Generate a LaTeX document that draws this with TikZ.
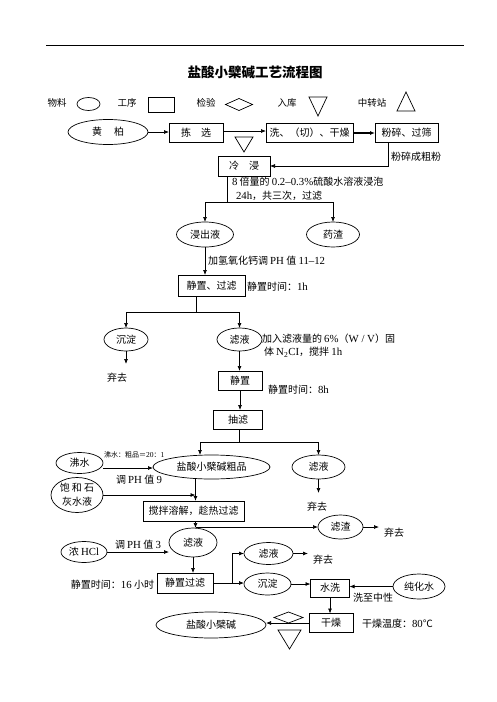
\documentclass[tikz,border=0pt]{standalone}
\usepackage{fontspec}
\setmainfont{Noto Sans CJK SC}
\newfontfamily\lat[Scale=1.08]{Liberation Serif}
\usetikzlibrary{shapes.geometric,arrows.meta,calc}

\begin{document}
\begin{tikzpicture}[x=1pt,y=-1pt,
  font=\fontsize{10}{12}\selectfont,
  line width=0.7pt,
  every node/.style={inner sep=0pt, outer sep=0pt},
  proc/.style={draw, rectangle, minimum width=#1, minimum height=19pt},
  proc/.default=50pt,
  mat/.style={draw, ellipse, minimum width=#1, minimum height=24pt},
  mat/.default=50pt,
  arr/.style={-{Latex[length=5pt,width=4pt]}},
  note/.style={anchor=west},
  legend/.style={font=\fontsize{9.5}{11}\selectfont},
]
\useasboundingbox (0,0) rectangle (496,702);

% header rule and title
\draw[line width=0.8pt] (46,45) -- (464,45);
\node[font=\fontsize{13.5}{15}\selectfont\bfseries] (title) at (255,72) {盐酸小檗碱工艺流程图};

% legend
\node[legend] (lg1) at (57,103) {物料};
\node[draw, ellipse, minimum width=23pt, minimum height=13pt] (lgE) at (88.5,104) {};
\node[legend] (lg2) at (127,103) {工序};
\node[draw, minimum width=26pt, minimum height=15pt] (lgR) at (161,104.5) {};
\node[legend] (lg3) at (206,103) {检验};
\draw (225.5,104.5) -- (239,98.5) -- (252.5,104.5) -- (239,110.5) -- cycle;
\node[legend] (lg4) at (287,103) {入库};
\draw (309,97) -- (327,97) -- (318,116) -- cycle;
\node[legend] (lg5) at (372,103) {中转站};
\draw (397,111) -- (415,111) -- (406,92) -- cycle;

% first row
\node[mat=80pt, minimum height=25pt] (hb) at (108,132) {黄\hspace{12pt}柏};
\node[proc=54pt] (jx) at (196,133) {拣\hspace{10pt}选};
\node[proc=87pt] (xq) at (309.5,133) {洗、（切）、干燥};
\node[proc=63pt] (fs) at (406.5,133) {粉碎、过筛};
\draw[arr] (hb.east) -- (hb.east -| jx.west);
\draw[arr] ([yshift=2pt]jx.east) -- ([yshift=2pt]jx.east -| xq.west);
\draw[arr, line width=1.2pt] (xq.east) -- (fs.west);
\draw (235,137) -- (253,137) -- (244,152) -- cycle;
\node (fsn) at (416,157) {粉碎成粗粉};

% cold soaking
\node[proc=52pt, minimum height=20pt] (lj) at (244,166) {冷\hspace{10pt}浸};
\coordinate (fsd) at ($(fs.south west)+(13,0)$);
\draw[arr] (fsd) |- (lj.east);
\node[note] (ljn1) at (232,182) {{\lat 8} 倍量的 {\lat 0.2–0.3\%}硫酸水溶液浸泡};
\node[note] (ljn2) at (236,196) {{\lat 24h}，共三次，过滤};

\node[mat=57pt, minimum height=25pt] (jcy) at (205,234.5) {浸出液};
\node[mat=53pt, minimum height=25pt] (yz) at (333,234.5) {药渣};
\coordinate (sp1) at (227,202);
\draw (lj.south -| sp1) -- (sp1);
\draw[arr] (sp1) -| (jcy.north);
\draw[arr] (sp1) -| (yz.north);

\node[note] (jcyn) at (208,261) {加氢氧化钙调 {\lat PH} 值 {\lat 11–12}};
\node[proc=67pt, minimum height=21pt] (jz) at (211.5,285.5) {静置、过滤};
\draw[arr] (jcy.south) -- (jcy.south |- jz.north);
\node[note] (jzn) at (247,287) {静置时间：{\lat 1h}};

% first filtering
\node[mat=44pt, minimum height=23pt] (cd1) at (126,339.5) {沉淀};
\node[mat=45pt, minimum height=23pt] (ly1) at (239.5,339.5) {滤液};
\coordinate (sp2) at (196,312);
\draw (jz.south -| sp2) -- (sp2);
\draw[arr] (sp2) -| (cd1.north);
\draw[arr] (sp2) -| (ly1.north);
\coordinate (qq1e) at (126,364);
\draw[arr] (cd1.south) -- (qq1e);
\node (qq1) at (117,378) {弃去};
\node[note] (ly1n1) at (262,339) {加入滤液量的 {\lat 6\%}（{\lat W / V}）固};
\node[note] (ly1n2) at (264,352) {体 {\lat N\textsubscript{2}CI}，搅拌 {\lat 1h}};

\node[proc=44pt] (jz2) at (240,380.5) {静置};
\draw[arr] (ly1.south) -- (ly1.south |- jz2.north);
\node[note] (jz2n) at (268,390) {静置时间：{\lat 8h}};
\node[proc=49pt] (cl) at (238,419.5) {抽滤};
\draw[arr] (jz2.south) -- (jz2.south |- cl.north);

% crude product
\node[mat=117pt] (cp) at (211.5,467) {盐酸小檗碱粗品};
\node[mat=53pt] (ly2) at (318.5,467) {滤液};
\coordinate (sp3) at (239,442);
\draw (cl.south -| sp3) -- (sp3);
\draw[arr] (sp3) -| ([xshift=-11.5pt]cp.north);
\draw[arr] (sp3) -| (ly2.north);
\coordinate (qq2e) at (318.5,493);
\draw[arr] (ly2.south) -- (qq2e);
\node (qq2) at (317,507) {弃去};

\node[mat=47pt, minimum height=21pt] (fs1) at (79.5,463) {沸水};
\node[note, font=\fontsize{7}{8}\selectfont] (fs1n) at (104,455) {沸水：粗品＝{\lat 20}：{\lat 1}};
\coordinate (fs1o) at ($(fs1.east)+(0,5)$);
\draw[arr] (fs1o) -- (fs1o -| cp.west);
\node[note] (ph9) at (116,480) {调 {\lat PH} 值 {\lat 9}};
\node[draw, ellipse, minimum width=52pt, minimum height=35pt, align=center,
      font=\fontsize{10}{14}\selectfont] (bh) at (77,495) {饱 和 石\\灰水液};

\node[proc=101pt, minimum height=20pt] (jb) at (193.5,511) {搅拌溶解，趁热过滤};
\coordinate (cpo) at (195.5,478.5);
\draw[arr, line width=1pt] (cpo) -- (cpo |- jb.north);
\draw[arr] (bh.east) -- (bh.east -| cpo);

% hot filtering
\node[mat=45pt] (lz) at (340.5,527) {滤渣};
\node[mat=48pt, minimum height=29pt] (ly3) at (193,542.5) {滤液};
\coordinate (sp4) at (195.5,527);
\draw[arr] (jb.south -| sp4) -- (sp4 |- ly3.north);
\draw[arr] (sp4) -- (sp4 -| lz.west);
\coordinate (qq3e) at (379,527);
\draw[arr] (lz.east) -- (qq3e);
\node (qq3) at (394,533) {弃去};

\node[mat=46pt, minimum height=21pt] (nh) at (84,552) {浓 {\lat HCl}};
\node[note] (ph3) at (115,545) {调 {\lat PH} 值 {\lat 3}};
\draw[arr] (nh.east) -- (nh.east -| ly3.west);

% precipitation
\node[mat=49pt, minimum height=22pt] (ly4) at (268.5,553.5) {滤液};
\coordinate (qq4e) at (308,553.5);
\draw[arr] (ly4.east) -- (qq4e);
\node (qq4) at (323,560) {弃去};

\node[proc=56pt, minimum height=20pt] (jzgl) at (185,583) {静置过滤};
\draw[arr] (ly3.south) -- (ly3.south |- jzgl.north);
\node[anchor=east] (jzgln) at (154,585) {静置时间：{\lat 16} 小时};
\node[mat=47pt, minimum height=22pt] (cd2) at (267.5,584) {沉淀};
\coordinate (sp5) at (232,583);
\draw (jzgl.east) -- (sp5);
\draw[arr] (sp5) |- (ly4.west);
\draw[arr] (sp5) -- (sp5 -| cd2.west);

% washing and drying
\node[proc=39pt, minimum height=18pt] (sx) at (330,588) {水洗};
\node[mat=52pt, minimum height=25pt] (chs) at (419,586.5) {纯化水};
\draw[arr] (cd2.east) -- (cd2.east -| sx.west);
\draw[arr] (chs.west) -- (chs.west -| sx.east);
\node[note] (chsn) at (353,598) {洗至中性};

\node[proc=44pt] (gz) at (331,623) {干燥};
\draw[arr] (sx.south) -- (sx.south |- gz.north);
\node[note] (gzn) at (362,624) {干燥温度：{\lat 80}℃};

\node[mat=110pt, minimum height=26pt] (pr) at (211,625) {盐酸小檗碱};
\draw[arr] (gz.west) -- (gz.west -| pr.east);
\draw (274,617.5) -- (288.5,612) -- (303,617.5) -- (288.5,623) -- cycle;
\draw (278,630) -- (301,630) -- (289.5,649) -- cycle;
\end{tikzpicture}
\end{document}
